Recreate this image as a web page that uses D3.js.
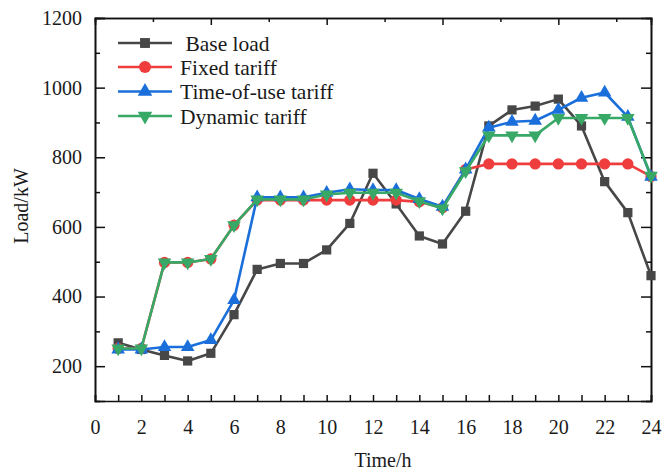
<!DOCTYPE html>
<html>
<head>
<meta charset="utf-8">
<script src="https://cdn.jsdelivr.net/npm/d3@7"></script>
<style>
  html, body { margin: 0; padding: 0; background: #fff; }
  svg { display: block; }
  text { font-family: "Liberation Serif", serif; fill: #1a1a1a; }
</style>
</head>
<body>
<svg id="chart" width="662" height="470"></svg>
<script>
const hours = d3.range(1, 25);
const baseLoad = [267, 248, 231, 215, 237, 348, 478, 495, 495, 534, 610, 754, 666, 574, 551, 645, 890, 936, 947, 967, 890, 730, 641, 460];
const fixedTariff = [251, 251, 498, 498, 508, 605, 677, 677, 677, 677, 677, 677, 677, 672, 655, 765, 781, 781, 781, 781, 781, 781, 781, 745];
const touTariff = [248, 248, 255, 255, 275, 390, 685, 685, 685, 698, 708, 706, 706, 680, 658, 765, 885, 902, 905, 936, 971, 986, 916, 744];
const dynamicTariff = [251, 251, 498, 498, 508, 605, 679, 679, 679, 693, 698, 698, 698, 674, 653, 760, 863, 863, 863, 913, 913, 913, 913, 747];
const seriesNames = [" Base load", "Fixed tariff", "Time-of-use tariff", "Dynamic tariff"];
const xTickLabels = [0, 2, 4, 6, 8, 10, 12, 14, 16, 18, 20, 22, 24];
const yTickLabels = [200, 400, 600, 800, 1000, 1200];

(function () {
const W = 662, H = 470;
const m = {left: 95, right: 11, top: 18, bottom: 69};
const svg = d3.select("#chart");
const x = d3.scaleLinear().domain([0, 24]).range([m.left, W - m.right]);
const y = d3.scaleLinear().domain([100, 1200]).range([H - m.bottom, m.top]);

const series = [
  {name: seriesNames[0], values: baseLoad, color: "#474747", symbol: d3.symbolSquare, size: 85, rot: 0},
  {name: seriesNames[1], values: fixedTariff, color: "#ef3d3d", symbol: d3.symbolCircle, size: 100, rot: 0},
  {name: seriesNames[2], values: touTariff, color: "#1b6fdb", symbol: d3.symbolTriangle, size: 80, rot: 0},
  {name: seriesNames[3], values: dynamicTariff, color: "#38a867", symbol: d3.symbolTriangle, size: 80, rot: 180}
];

const fontSize = "20px";
svg.append("g").attr("transform", `translate(0,${y.range()[0]})`)
  .call(d3.axisBottom(x).tickValues(d3.range(0, 25, 1)).tickSize(-6).tickFormat(""));
const bottomLabels = svg.append("g").attr("transform", `translate(0,${y.range()[0]})`)
  .call(d3.axisBottom(x).tickValues(xTickLabels).tickSize(0).tickPadding(19).tickFormat(d3.format("d")));
bottomLabels.select(".domain").remove();

svg.append("g").attr("transform", `translate(0,${m.top})`)
  .call(d3.axisTop(x).tickValues([5, 10, 15, 20]).tickSize(-7).tickFormat(""));
svg.append("g").attr("transform", `translate(0,${m.top})`)
  .call(d3.axisTop(x).tickValues([2.5, 7.5, 12.5, 17.5, 22.5]).tickSize(-4).tickFormat(""));

svg.append("g").attr("transform", `translate(${m.left},0)`)
  .call(d3.axisLeft(y).tickValues(yTickLabels).tickSize(-10).tickPadding(13).tickFormat(d3.format("d")));
svg.append("g").attr("transform", `translate(${m.left},0)`)
  .call(d3.axisLeft(y).tickValues([300, 500, 700, 900, 1100]).tickSize(-5).tickFormat(""));

svg.append("g").attr("transform", `translate(${W - m.right},0)`)
  .call(d3.axisRight(y).tickValues([200, 400, 600, 800, 1000]).tickSize(-10).tickFormat(""));
svg.append("g").attr("transform", `translate(${W - m.right},0)`)
  .call(d3.axisRight(y).tickValues([300, 500, 700, 900, 1100]).tickSize(-5).tickFormat(""));

svg.selectAll(".domain").attr("stroke", "#111").attr("stroke-width", 1.6);
svg.selectAll(".tick line").attr("stroke", "#111").attr("stroke-width", 1.5);
svg.selectAll(".tick text").attr("font-family", null).style("font-size", fontSize)
  .style("font-family", '"Liberation Serif", serif').attr("fill", "#1a1a1a");

svg.append("text").attr("x", 383).attr("y", 467).attr("text-anchor", "middle")
  .style("font-size", fontSize).text("Time/h");
svg.append("text").attr("transform", `translate(28,206) rotate(-90)`).attr("text-anchor", "middle")
  .style("font-size", fontSize).text("Load/kW");

const line = d3.line().x((d, i) => x(hours[i])).y(d => y(d));
series.forEach(s => {
  const g = svg.append("g");
  g.append("path").datum(s.values).attr("d", line)
    .attr("fill", "none").attr("stroke", s.color).attr("stroke-width", 2.6).attr("stroke-linejoin", "round");
  g.selectAll("path.mk").data(s.values).enter().append("path").attr("class", "mk")
    .attr("d", d3.symbol().type(s.symbol).size(s.size))
    .attr("transform", (d, i) => `translate(${x(hours[i])},${y(d)}) rotate(${s.rot})`)
    .attr("fill", s.color);
});

const lg = svg.append("g");
const rowY = [43, 67, 91.5, 116];
series.forEach((s, i) => {
  const gy = rowY[i];
  lg.append("line").attr("x1", 118).attr("x2", 172).attr("y1", gy).attr("y2", gy)
    .attr("stroke", s.color).attr("stroke-width", 2.6);
  lg.append("path").attr("d", d3.symbol().type(s.symbol).size(s.size * 1.15))
    .attr("transform", `translate(145,${gy}) rotate(${s.rot})`).attr("fill", s.color);
  lg.append("text").attr("x", 180).attr("y", gy).attr("dy", "0.35em")
    .attr("xml:space", "preserve").style("white-space", "pre")
    .style("font-size", "21.5px").text(s.name);
});
})();
</script>
</body>
</html>
